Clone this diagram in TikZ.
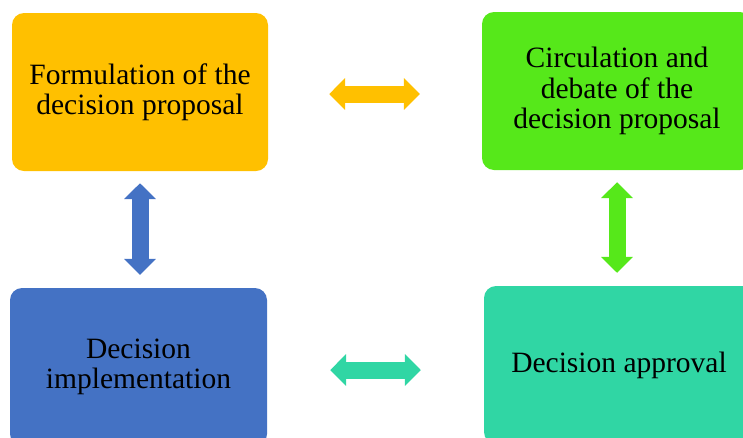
\documentclass[tikz,border=0pt]{standalone}
\usepackage{fontspec}
\setmainfont{Liberation Serif}
\usetikzlibrary{arrows.meta}

\definecolor{propOrange}{HTML}{FFC000}
\definecolor{debateGreen}{HTML}{56E81A}
\definecolor{implBlue}{HTML}{4472C4}
\definecolor{approvTeal}{HTML}{30D6A4}

\tikzset{
  stagebox/.style={rounded corners=12pt,inner sep=0pt,align=center,
    font=\fontsize{29.5}{30.5}\selectfont,minimum height=158pt},
  biarrow/.style={line width=17pt,
    {Triangle[width=31pt,length=16pt]}-{Triangle[width=31pt,length=16pt]}}
}

\begin{document}
\begin{tikzpicture}[x=1pt,y=-1pt]
  \useasboundingbox (0,0) rectangle (743,437);
  \node[stagebox,fill=propOrange,minimum width=256pt] (form) at (140,92)
    {Formulation of the\\decision proposal};
  \node[stagebox,fill=debateGreen,minimum width=270pt] (debate) at (617,91)
    {Circulation and\\debate of the\\decision proposal};
  \node[stagebox,fill=implBlue,minimum width=257pt] (impl) at (138.5,367)
    {Decision\\implementation};
  \node[stagebox,fill=approvTeal,minimum width=270pt] (approv) at (619,365)
    {Decision approval};
  % two-way arrows between the stages
  \draw[biarrow,propOrange,shorten <=61pt,shorten >=62pt]
    ([yshift=-2pt]form.east) -- ([yshift=-2pt]form.east -| debate.west);
  \draw[biarrow,implBlue,shorten <=12pt,shorten >=13pt]
    (form.south) -- (form.south |- impl.north);
  \draw[biarrow,debateGreen,shorten <=12pt,shorten >=13pt]
    (debate.south) -- (debate.south |- approv.north);
  \draw[biarrow,approvTeal,shorten <=63pt,shorten >=63pt]
    ([yshift=-3pt]impl.east) -- ([yshift=-3pt]impl.east -| approv.west);
\end{tikzpicture}
\end{document}
